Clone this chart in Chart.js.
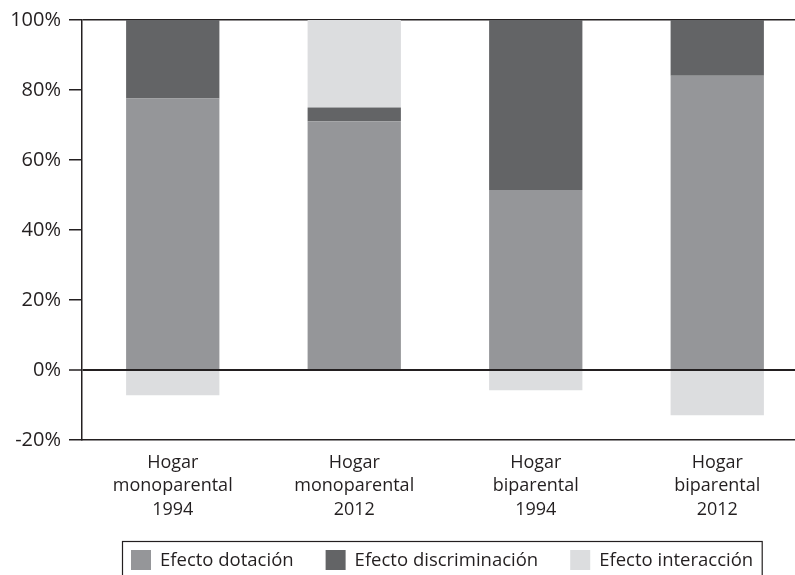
<!DOCTYPE html>
<html>
<head>
<meta charset="utf-8">
<script src="https://cdn.jsdelivr.net/npm/chart.js@4"></script>
<style>
  html, body { margin: 0; padding: 0; background: #fff; }
  #wrap { width: 795px; height: 575px; overflow: hidden; position: relative; }
  #wrap canvas { position: absolute; left: 0; top: 0; }
</style>
</head>
<body>
<div id="wrap"><canvas id="chart" width="808" height="584"></canvas></div>
<script>
const categories = [
  ['Hogar', 'monoparental', '1994'],
  ['Hogar', 'monoparental', '2012'],
  ['Hogar', 'biparental', '1994'],
  ['Hogar', 'biparental', '2012']
];
const seriesNames = ['Efecto dotación', 'Efecto discriminación', 'Efecto interacción'];
const dotacion = [77.6, 71.1, 51.4, 84.1];
const discriminacion = [22.4, 3.9, 48.6, 15.9];
const interaccion = [-7.2, 25.0, -5.8, -12.9];
const yTicks = [-20, 0, 20, 40, 60, 80, 100];

const colors = ['#959699', '#636466', '#dcdddf'];
const textColor = '#231f20';
const fontFamily = '"Open Sans", "Noto Sans", sans-serif';

// legend in a box under the chart
const boxedLegend = {
  id: 'boxedLegend',
  afterDraw(chart) {
    const ctx = chart.ctx;
    const sets = chart.data.datasets;
    ctx.save();
    ctx.font = '18.5px ' + fontFamily;
    ctx.textBaseline = 'alphabetic';
    let x = 131;
    const boxTop = 550, sq = 20, baseline = 566;
    sets.forEach((ds, i) => {
      ctx.fillStyle = ds.backgroundColor;
      ctx.fillRect(x, boxTop, sq, sq);
      x += sq + 9;
      ctx.fillStyle = textColor;
      ctx.fillText(ds.label, x, baseline);
      x += ctx.measureText(ds.label).width + 32;
    });
    ctx.strokeStyle = '#231f20';
    ctx.lineWidth = 1.2;
    ctx.strokeRect(122.5, 541.5, x - 32 + 9 - 122.5, 60);
    ctx.restore();
  }
};

new Chart(document.getElementById('chart'), {
  type: 'bar',
  data: {
    labels: categories,
    datasets: [
      { label: seriesNames[0], data: dotacion, backgroundColor: colors[0] },
      { label: seriesNames[1], data: discriminacion, backgroundColor: colors[1] },
      { label: seriesNames[2], data: interaccion, backgroundColor: colors[2] }
    ]
  },
  options: {
    responsive: false,
    animation: false,
    layout: { padding: { top: 20, right: 0, bottom: 0, left: 0 } },
    datasets: {
      bar: { categoryPercentage: 1, barPercentage: 0.514, borderWidth: 0 }
    },
    plugins: {
      legend: { display: false },
      tooltip: { enabled: false }
    },
    scales: {
      x: {
        stacked: true,
        grid: { display: false, drawTicks: false },
        border: { display: true, color: '#231f20', width: 1.5 },
        ticks: {
          color: textColor,
          padding: 11,
          maxRotation: 0,
          font: { family: fontFamily, size: 18, lineHeight: 1.3 }
        },
        afterFit(scale) { scale.height = 144; }
      },
      y: {
        stacked: true,
        min: -20,
        max: 100,
        afterBuildTicks(scale) { scale.ticks = yTicks.map(v => ({ value: v })); },
        grid: {
          color: c => (c.tick && (c.tick.value === 0 || c.tick.value === 100)) ? '#231f20' : 'rgba(0,0,0,0)',
          lineWidth: c => (c.tick && c.tick.value === 0) ? 2 : 1.5,
          tickColor: '#231f20',
          tickWidth: 1.5,
          tickLength: 13,
          drawTicks: true
        },
        border: { display: true, color: '#231f20', width: 1.5 },
        ticks: {
          color: textColor,
          padding: 8,
          font: { family: fontFamily, size: 20 },
          callback: v => v + '%'
        },
        afterFit(scale) { scale.width = 82; }
      }
    }
  },
  plugins: [boxedLegend]
});
</script>
</body>
</html>
